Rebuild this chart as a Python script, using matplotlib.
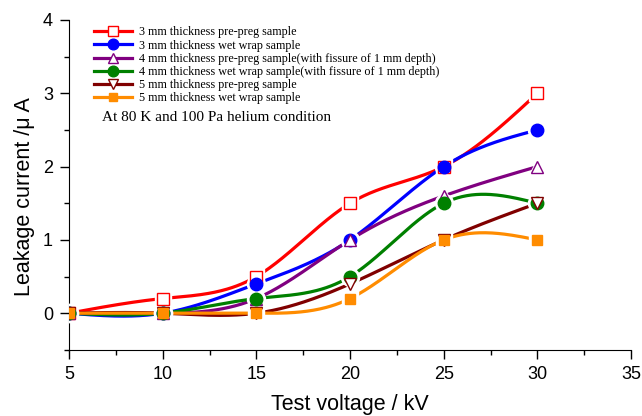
import numpy as np
import matplotlib
matplotlib.use('Agg')
import matplotlib.pyplot as plt
from matplotlib.lines import Line2D

# Test voltage (kV)
voltage = [5, 10, 15, 20, 25, 30]

# Leakage current (uA) for each sample
pp3 = [0, 0.2, 0.5, 1.5, 2.0, 3.0]
ww3 = [0, 0, 0.4, 1.0, 2.0, 2.5]
pp4 = [0, 0, 0.2, 1.0, 1.6, 2.0]
ww4 = [0, 0, 0.2, 0.5, 1.5, 1.5]
pp5 = [0, 0, 0, 0.4, 1.0, 1.5]
ww5 = [0, 0, 0, 0.2, 1.0, 1.0]

labels = ['3 mm thickness pre-preg sample',
          '3 mm thickness wet wrap sample',
          '4 mm thickness pre-preg sample(with fissure of 1 mm depth)',
          '4 mm thickness wet wrap sample(with fissure of 1 mm depth)',
          '5 mm thickness pre-preg sample',
          '5 mm thickness wet wrap sample']


def natural_spline(x, y, n=300):
    # smooth connecting line through the points (natural cubic spline)
    x = np.asarray(x, float)
    y = np.asarray(y, float)
    k = len(x)
    h = np.diff(x)
    A = np.zeros((k, k))
    b = np.zeros(k)
    A[0, 0] = A[-1, -1] = 1
    for i in range(1, k - 1):
        A[i, i - 1] = h[i - 1]
        A[i, i] = 2 * (h[i - 1] + h[i])
        A[i, i + 1] = h[i]
        b[i] = 6 * ((y[i + 1] - y[i]) / h[i] - (y[i] - y[i - 1]) / h[i - 1])
    M = np.linalg.solve(A, b)
    xs = np.linspace(x[0], x[-1], n)
    idx = np.clip(np.searchsorted(x, xs) - 1, 0, k - 2)
    x0, x1 = x[idx], x[idx + 1]
    hh = x1 - x0
    t0 = x1 - xs
    t1 = xs - x0
    ys = (M[idx] * t0 ** 3 + M[idx + 1] * t1 ** 3) / (6 * hh) \
        + (y[idx] / hh - M[idx] * hh / 6) * t0 \
        + (y[idx + 1] / hh - M[idx + 1] * hh / 6) * t1
    return xs, ys


series = [
    (pp3, 'red', 's', True),
    (ww3, 'blue', 'o', False),
    (pp4, 'purple', '^', True),
    (ww4, 'green', 'o', False),
    (pp5, 'maroon', 'v', True),
    (ww5, 'darkorange', 's', False),
]

fig = plt.figure(figsize=(6.42, 4.16), dpi=100)
ax = fig.add_axes([0.1075, 0.159, 0.8755, 0.793])

handles = []
for i, (vals, col, mk, hollow) in enumerate(series):
    xs, ys = natural_spline(voltage, vals)
    ax.plot(xs, ys, color=col, lw=2.3, zorder=2 + i * 0.01, solid_capstyle='round')
    ms = 8 if mk != 'o' else 9
    if mk == 's' and not hollow:
        ms = 7
    # white halo to leave a gap between line and symbol
    ax.plot(voltage, vals, ls='none', marker=mk, ms=ms + 4, mfc='white', mec='white',
            zorder=3 + i * 0.01)
    fc = 'white' if hollow else col
    ax.plot(voltage, vals, ls='none', marker=mk, ms=ms, mfc=fc, mec=col, mew=1.0,
            zorder=4 + i * 0.01)
    handles.append(Line2D([], [], color=col, lw=2.3, marker=mk, ms=ms * 0.85, mfc=fc,
                          mec=col, mew=1.0))

ax.set_xlim(5, 35)
ax.set_ylim(-0.5, 4)
ax.set_xticks([5, 10, 15, 20, 25, 30, 35])
ax.set_xticks(np.arange(7.5, 35, 5), minor=True)
ax.set_yticks([0, 1, 2, 3, 4])
ax.set_yticks([-0.5, 0.5, 1.5, 2.5, 3.5], minor=True)
for s in ['top', 'right']:
    ax.spines[s].set_visible(False)
ax.tick_params(which='major', direction='out', length=6.5, width=1, labelsize=13, pad=5)
ax.tick_params(which='minor', direction='out', length=3.5, width=1)
for lab in ax.get_xticklabels() + ax.get_yticklabels():
    lab.set_fontfamily('Liberation Sans')

ax.set_xlabel('Test voltage / kV', fontsize=15.5, family='Liberation Sans', labelpad=8)
ax.set_ylabel('Leakage current /\u03bc A', fontsize=15.5, family='Liberation Sans')
ax.yaxis.set_label_coords(-0.06, 0.465)

leg = ax.legend(handles, labels, loc='upper left', bbox_to_anchor=(0.035, 0.995), frameon=False,
                handlelength=3.2, handletextpad=0.6, labelspacing=0.1,
                prop={'family': 'Liberation Serif', 'size': 8.7}, borderaxespad=0)

ax.text(0.059, 0.705, 'At 80 K and 100 Pa helium condition', transform=ax.transAxes,
        fontsize=11, family='Liberation Serif', va='center')

fig.savefig('out.png', dpi=100)
